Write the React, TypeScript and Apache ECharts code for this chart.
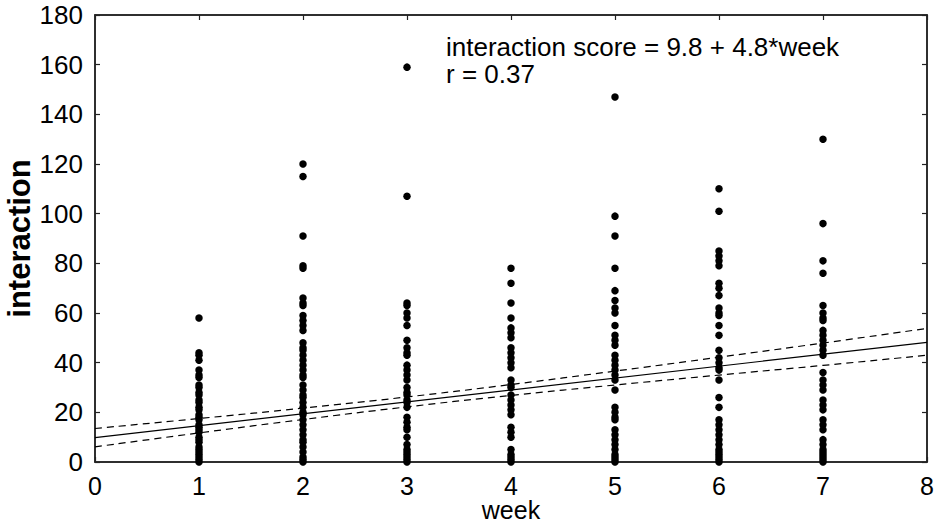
import React, { useEffect, useRef } from "react";
import * as echarts from "echarts";

// Interaction scores recorded each week
const week1 = [58, 44, 43, 41, 37, 35, 34, 31, 30, 28, 27, 25, 24, 22, 21, 19, 18, 17, 15, 14, 13, 12, 10, 9, 8, 6, 5, 4, 3, 2, 1, 0];
const week2 = [120, 115, 91, 79, 78, 66, 64, 63, 59, 57, 55, 53, 48, 46, 45, 43, 41, 39, 37, 35, 34, 31, 29, 27, 26, 24, 22, 20, 19, 17, 15, 13, 11, 9, 8, 6, 4, 2, 1, 0];
const week3 = [159, 107, 64, 63, 60, 58, 55, 49, 46, 44, 43, 39, 37, 35, 33, 30, 28, 27, 25, 24, 22, 18, 16, 14, 13, 10, 7, 5, 4, 3, 2, 1, 0];
const week4 = [78, 72, 64, 58, 54, 52, 50, 46, 44, 42, 40, 38, 33, 31, 30, 27, 25, 23, 21, 19, 14, 12, 10, 5, 3, 2, 1, 0];
const week5 = [147, 99, 91, 78, 69, 65, 62, 60, 55, 51, 49, 47, 43, 41, 39, 37, 35, 33, 29, 22, 20, 18, 17, 13, 11, 9, 7, 5, 3, 2, 1, 0];
const week6 = [110, 101, 85, 83, 81, 79, 72, 70, 67, 62, 60, 59, 55, 51, 45, 42, 40, 38, 37, 33, 26, 22, 17, 15, 13, 11, 9, 7, 5, 4, 3, 2, 1, 0];
const week7 = [130, 96, 81, 76, 63, 60, 58, 57, 53, 51, 49, 47, 45, 43, 36, 33, 31, 29, 25, 23, 21, 17, 15, 13, 9, 7, 5, 4, 3, 2, 1, 0];
const weeklyScores = [week1, week2, week3, week4, week5, week6, week7];

// Fitted regression: interaction score = intercept + slope * week
const intercept = 9.8;
const slope = 4.8;
const rValue = 0.37;

// Confidence band around the fit
const bandWeeks = [0, 1, 2, 3, 4, 5, 6, 7, 8];
const bandUpper = [13.5, 17.5, 21.7, 26.2, 31.2, 36.6, 42.2, 47.9, 53.8];
const bandLower = [6.1, 11.7, 17.1, 22.2, 26.8, 31.0, 35.0, 38.9, 43.0];

const FONT = "'Liberation Sans', Arial, Helvetica, sans-serif";
const INK = "#000";
const AXIS = "#222";

export default function App() {
  const ref = useRef<HTMLDivElement>(null);

  useEffect(() => {
    if (!ref.current) return;
    const chart = echarts.init(ref.current, undefined, { renderer: "svg" });

    const points: number[][] = [];
    weeklyScores.forEach((vals, i) => {
      vals.forEach((v) => points.push([i + 1, v]));
    });

    const fitLine = [
      [0, intercept],
      [8, intercept + slope * 8],
    ];

    const axisLine = { show: true, onZero: false, lineStyle: { color: AXIS, width: 1.5 } };
    const innerTick = { show: true, inside: true, length: 5, lineStyle: { color: AXIS, width: 1.2 } };

    chart.setOption({
      animation: false,
      backgroundColor: "#fff",
      textStyle: { fontFamily: FONT },
      grid: {
        left: 95,
        right: 11,
        top: 15,
        bottom: 61,
        containLabel: false,
        outerBoundsMode: "none",
        show: true,
        borderColor: AXIS,
        borderWidth: 1.5,
        backgroundColor: "transparent",
      },
      xAxis: [
        {
          type: "value",
          min: 0,
          max: 8,
          interval: 1,
          position: "bottom",
          axisLine,
          axisTick: innerTick,
          splitLine: { show: false },
          axisLabel: { color: INK, fontSize: 25, fontFamily: FONT, margin: 11 },
          name: "week",
          nameLocation: "middle",
          nameGap: 35,
          nameMoveOverlap: false,
          nameTextStyle: { color: INK, fontSize: 25, fontFamily: FONT },
        },
        {
          type: "value",
          min: 0,
          max: 8,
          interval: 1,
          position: "top",
          axisLine,
          axisTick: innerTick,
          axisLabel: { show: false },
          splitLine: { show: false },
        },
      ],
      yAxis: [
        {
          type: "value",
          min: 0,
          max: 180,
          interval: 20,
          position: "left",
          axisLine,
          axisTick: innerTick,
          splitLine: { show: false },
          axisLabel: {
            color: INK,
            fontSize: 26,
            fontFamily: FONT,
            margin: 12,
            padding: [9, 0, 0, 0],
          },
          name: "interaction",
          nameLocation: "middle",
          nameRotate: 90,
          nameGap: 60,
          nameMoveOverlap: false,
          nameTextStyle: { color: INK, fontSize: 31, fontWeight: "bold", fontFamily: FONT },
        },
        {
          type: "value",
          min: 0,
          max: 180,
          interval: 20,
          position: "right",
          axisLine,
          axisTick: innerTick,
          axisLabel: { show: false },
          splitLine: { show: false },
        },
      ],
      series: [
        {
          type: "line",
          data: fitLine,
          symbol: "none",
          lineStyle: { color: INK, width: 1.2 },
          z: 3,
        },
        {
          type: "line",
          data: bandWeeks.map((w, i) => [w, bandUpper[i]]),
          smooth: true,
          symbol: "none",
          lineStyle: { color: INK, width: 1.2, type: [7, 5] },
          z: 3,
        },
        {
          type: "line",
          data: bandWeeks.map((w, i) => [w, bandLower[i]]),
          smooth: true,
          symbol: "none",
          lineStyle: { color: INK, width: 1.2, type: [7, 5] },
          z: 3,
        },
        {
          type: "scatter",
          data: points,
          symbol: "circle",
          symbolSize: 7.5,
          itemStyle: { color: INK, opacity: 1 },
          z: 4,
        },
      ],
      graphic: [
        {
          type: "text",
          left: 446,
          top: 34,
          style: {
            text: `interaction score = ${intercept} + ${slope}*week`,
            fill: INK,
            font: `26px ${FONT}`,
          },
        },
        {
          type: "text",
          left: 446,
          top: 61,
          style: {
            text: `r = ${rValue}`,
            fill: INK,
            font: `26px ${FONT}`,
          },
        },
      ],
    });

    return () => chart.dispose();
  }, []);

  return (
    <div
      ref={ref}
      style={{ position: "absolute", left: 0, top: 0, width: 938, height: 523 }}
    />
  );
}
